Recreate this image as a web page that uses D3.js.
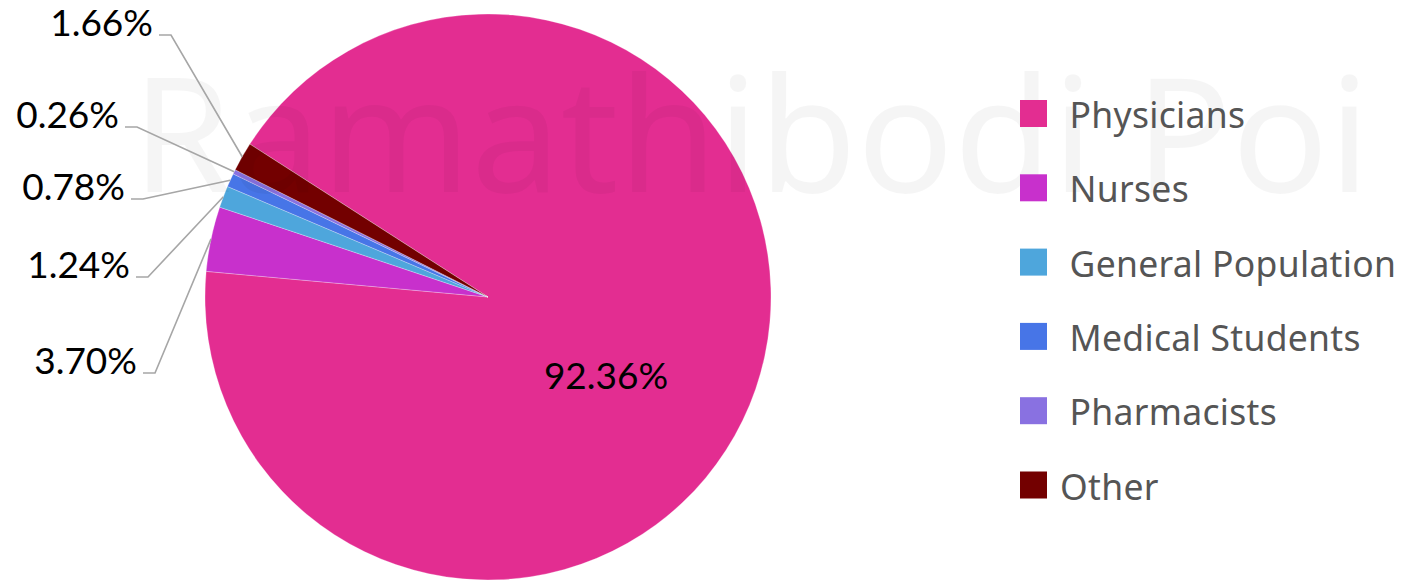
<!DOCTYPE html>
<html>
<head>
<meta charset="utf-8">
<script src="https://cdn.jsdelivr.net/npm/d3@7"></script>
<style>
  html, body { margin: 0; padding: 0; background: #fff; }
  svg { display: block; }
  .legend text { white-space: pre; }
</style>
</head>
<body>
<svg id="chart" width="1405" height="580"></svg>
<script>
// ---- data ----
const categories = [" Physicians", " Nurses", " General Population", " Medical Students", " Pharmacists", "Other"];
const values = [92.36, 3.70, 1.24, 0.78, 0.26, 1.66];
const colors = ["#E32D91", "#C830CC", "#4EA6DC", "#4775E7", "#8971E1", "#730000"];
const watermarkText = "Ramathibodi Poi";

// ---- layout (not data) ----
const W = 1405, H = 580;
const cx = 488, cy = 297, R = 283;
const startAngle = -57.3 * Math.PI / 180;
// callout elbow points for outside labels (index -> [elbow x, y])
const calloutLayout = {1: [155, 373], 2: [148, 277], 3: [143, 199], 4: [137, 127], 5: [171, 35]};

const svg = d3.select("#chart");
const pie = d3.pie().sort(null).value(d => d.v)
  .startAngle(startAngle).endAngle(startAngle + 2 * Math.PI);
const data = categories.map((c, i) => ({c, v: values[i], col: colors[i], i}));
const arcs = pie(data);
const arc = d3.arc().innerRadius(0).outerRadius(R);

const g = svg.append("g").attr("transform", `translate(${cx},${cy})`);
g.selectAll("path").data(arcs).join("path")
  .attr("d", arc)
  .attr("fill", d => d.data.col)
  .attr("stroke", "rgba(255,255,255,0.45)")
  .attr("stroke-width", 0.6)
  .attr("stroke-linejoin", "round");

// watermark
svg.append("text")
  .attr("x", 132).attr("y", 192)
  .attr("font-family", "'Noto Sans', sans-serif")
  .attr("font-size", 160)
  .attr("fill", "#000")
  .attr("fill-opacity", 0.04)
  .text(watermarkText);

// callouts
const fmt = v => v.toFixed(2) + "%";
const labelFont = "Lato, 'Noto Sans', sans-serif";
arcs.forEach(a => {
  const i = a.data.i;
  if (i === 0) {
    g.append("text")
      .attr("x", 606 - cx).attr("y", 389 - cy)
      .attr("text-anchor", "middle")
      .attr("font-family", labelFont)
      .attr("font-size", 37)
      .attr("fill", "#000")
      .text(fmt(a.data.v));
    return;
  }
  const mid = (a.startAngle + a.endAngle) / 2;
  const px = cx + R * Math.sin(mid), py = cy - R * Math.cos(mid);
  const [ex, ey] = calloutLayout[i];
  const sx = ex - 12;
  svg.append("path")
    .attr("d", `M${sx},${ey}L${ex},${ey}L${px},${py}`)
    .attr("fill", "none")
    .attr("stroke", "#a6a6a6")
    .attr("stroke-width", 1.6);
  svg.append("text")
    .attr("x", sx - 6).attr("y", ey + 1)
    .attr("text-anchor", "end")
    .attr("font-family", labelFont)
    .attr("font-size", 37)
    .attr("fill", "#000")
    .text(fmt(a.data.v));
});

// legend
const leg = svg.append("g").attr("class", "legend");
const rows = leg.selectAll("g").data(data).join("g")
  .attr("transform", (d, i) => `translate(1020,${100 + i * 74.3})`);
rows.append("rect").attr("width", 27).attr("height", 27).attr("fill", d => d.col);
rows.append("text")
  .attr("x", 40).attr("y", 28)
  .attr("font-family", "'Noto Sans', sans-serif")
  .attr("font-size", 35.5)
  .attr("letter-spacing", 0.3)
  .attr("fill", "#555")
  .text(d => d.c);
</script>
</body>
</html>
